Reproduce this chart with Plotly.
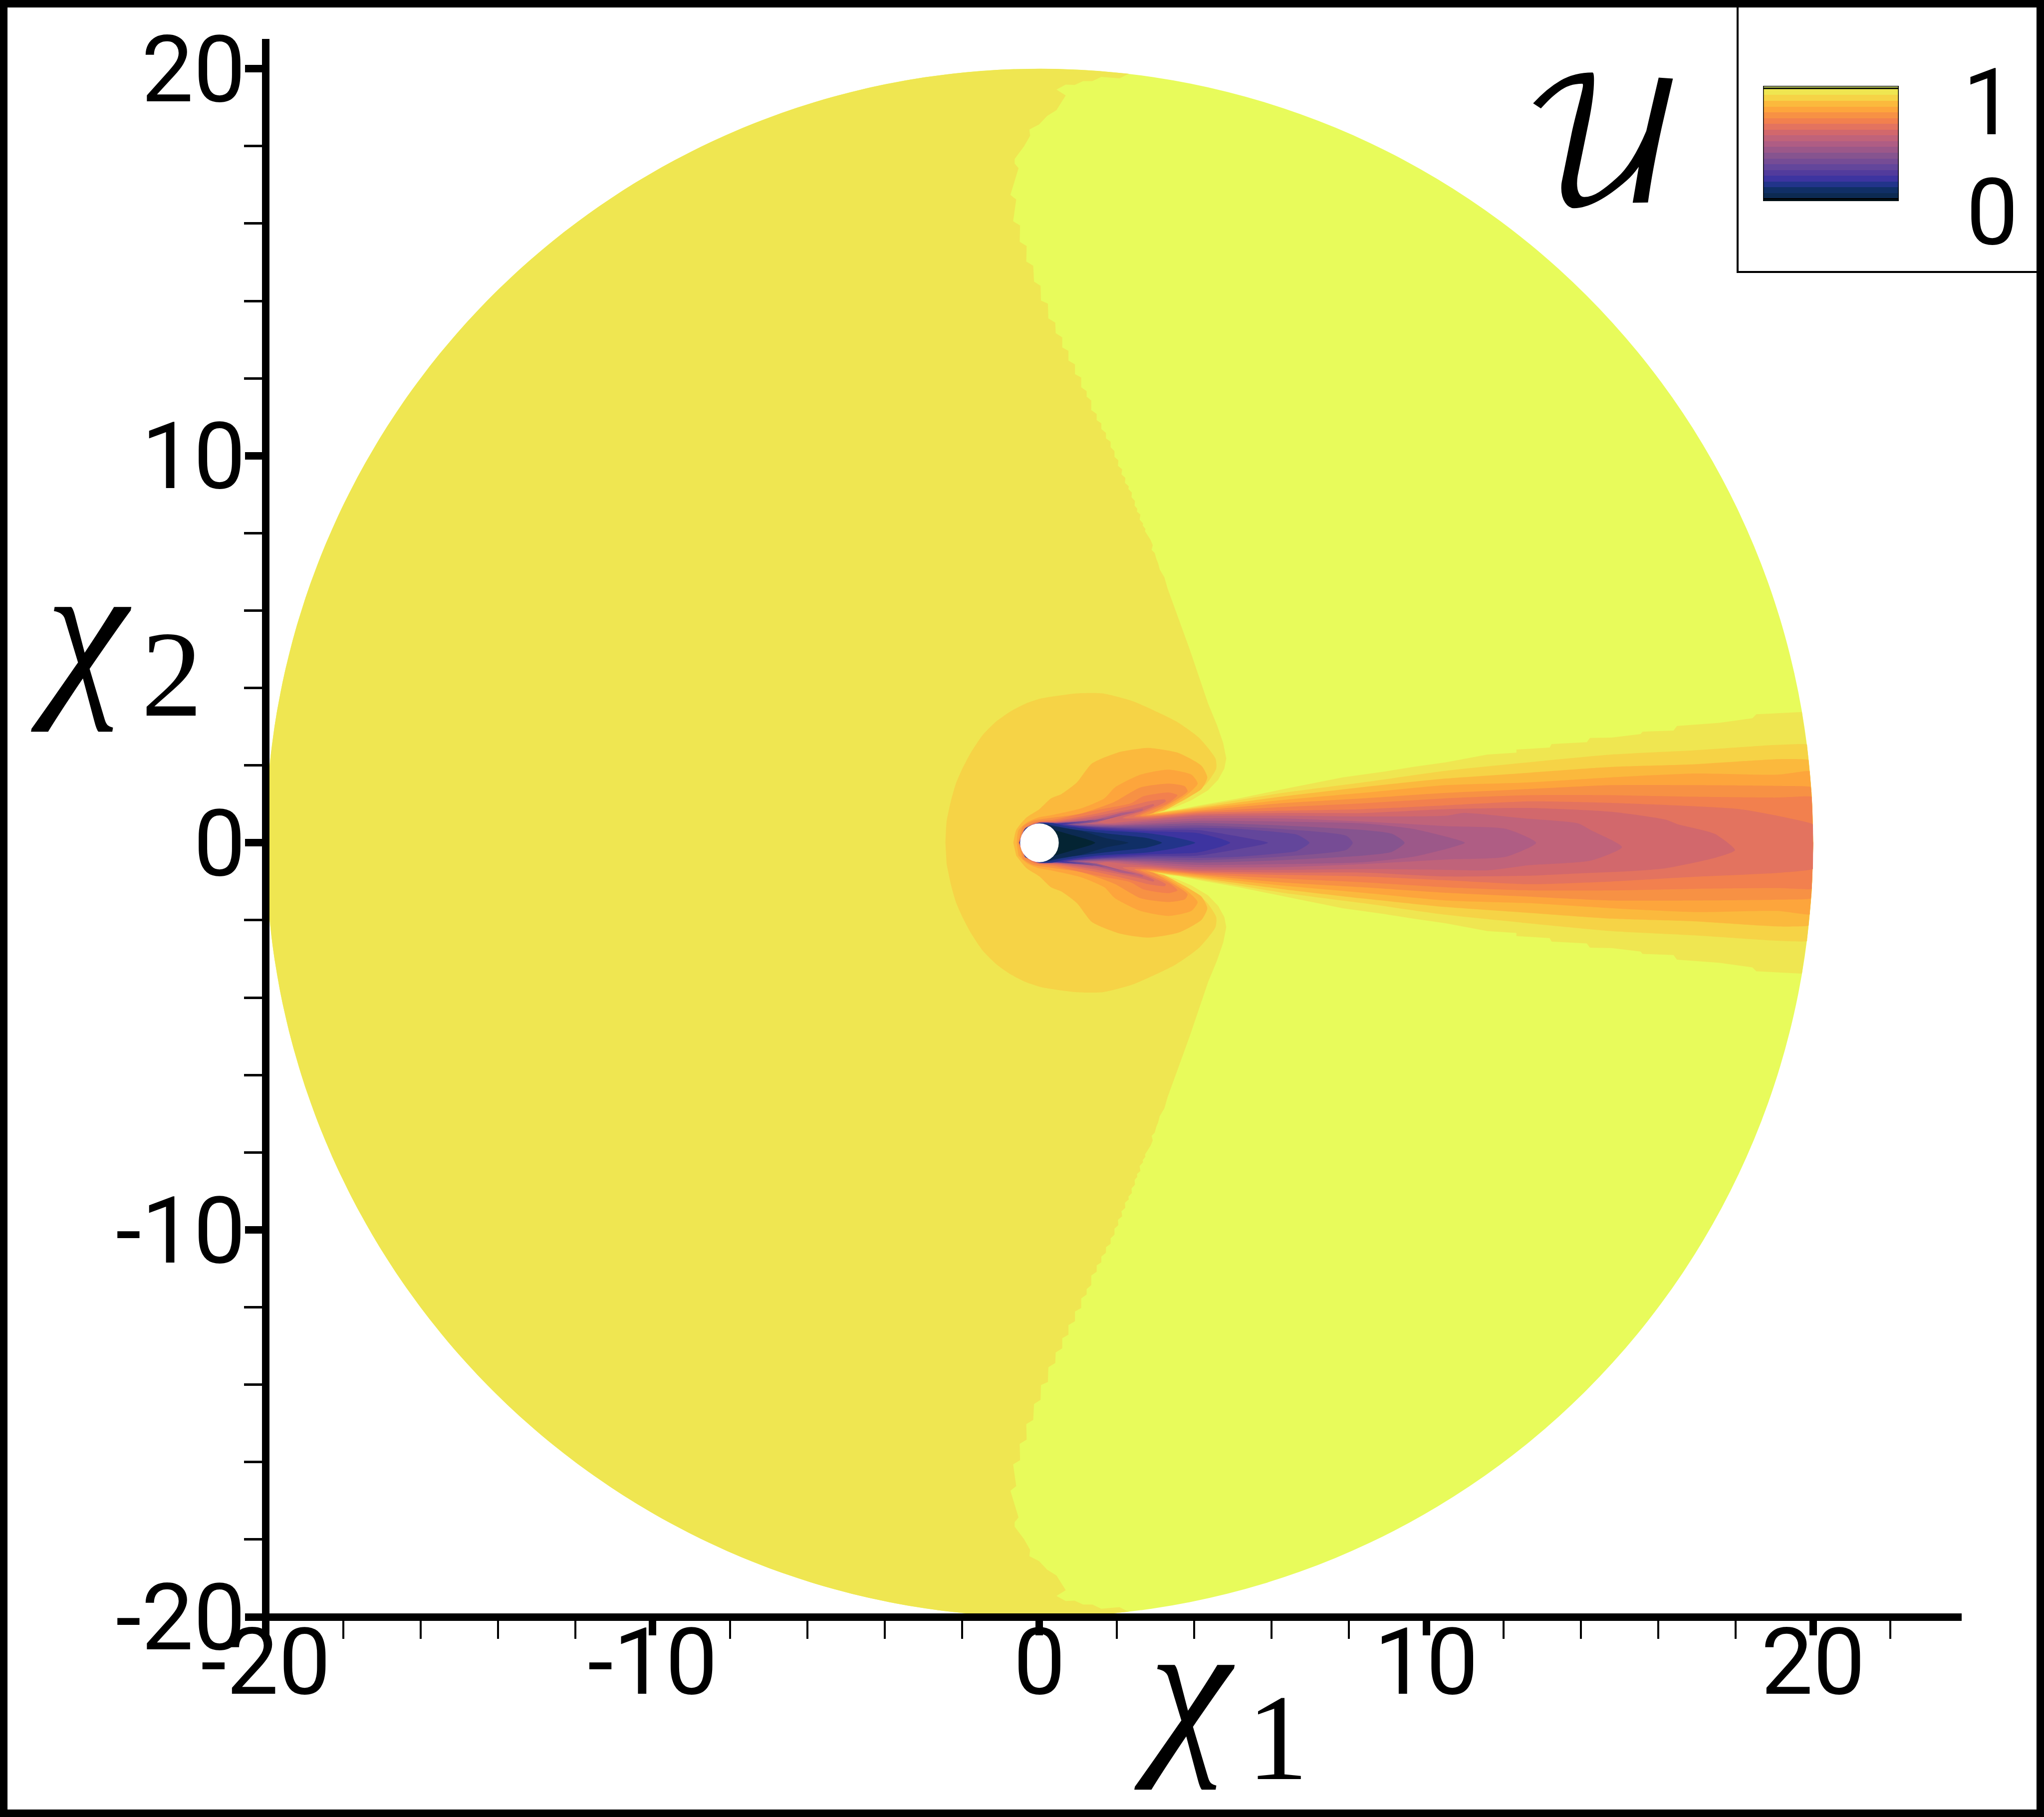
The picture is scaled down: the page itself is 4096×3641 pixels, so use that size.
import numpy as np
import plotly.graph_objects as go

W, H = 4096, 3641

# Colour of each contour band, from the value 1 end (top of the key) to the value 0 end
band_colors = ["#E8FB5B", "#EFE651", "#F6D346", "#FBB93D", "#FDA53C", "#F79144", "#F2804E",
               "#E3735F", "#D2686C", "#C0637A", "#AF5D84", "#9C5889", "#86548F", "#764C95",
               "#63469B", "#523B9C", "#3D34A0", "#22348A", "#102F66", "#0C2A52", "#042433"]
# Thickness of each band in the colour key
key_heights = [0.022] + [0.05] * 19 + [0.02]
key_lines = [0.02, 0.978]

x_major = [-20, -10, 0, 10, 20]
x_major_text = ["-20", "-10", "0", "10", "20"]
y_major = [-20, -10, 0, 10, 20]
y_major_text = ["-20", "-10", "0", "10", "20"]
x_minor = [-18, -16, -14, -12, -8, -6, -4, -2, 2, 4, 6, 8, 12, 14, 16, 18, 22]
y_minor = [-18, -16, -14, -12, -8, -6, -4, -2, 2, 4, 6, 8, 12, 14, 16, 18]

domain_radius = 20
cylinder_radius = 0.5

# Contour outlines: upper half, (x1, x2), from the axis upstream to the axis downstream.
band_01 = [(2.31, 19.87), (2.07, 19.75), (1.60, 19.79), (1.37, 19.68), (1.13, 19.68), (0.91, 19.58), (0.68, 19.59),
           (0.44, 19.46), (0.68, 19.31), (0.44, 18.93), (0.20, 18.78), (-0.01, 18.56), (-0.26, 18.43), (-0.24, 18.27),
           (-0.40, 17.99), (-0.64, 17.67), (-0.64, 17.55), (-0.54, 17.43), (-0.75, 16.74), (-0.60, 16.62), (-0.68, 16.06),
           (-0.50, 15.95), (-0.51, 15.53), (-0.33, 15.42), (-0.34, 15.02), (-0.16, 14.91), (-0.14, 14.50), (0.03, 14.39),
           (0.04, 14.01), (0.22, 13.93), (0.23, 13.55), (0.41, 13.44), (0.42, 13.17), (0.59, 13.06), (0.59, 12.80),
           (0.75, 12.71), (0.75, 12.46), (0.92, 12.36), (0.92, 12.11), (1.08, 12.02), (1.08, 11.77), (1.22, 11.67),
           (1.22, 11.53), (1.34, 11.43), (1.34, 11.18), (1.48, 11.08), (1.48, 10.92), (1.60, 10.84), (1.60, 10.69),
           (1.72, 10.59), (1.72, 10.45), (1.84, 10.36), (1.84, 10.22), (1.94, 10.12), (1.94, 9.97), (2.04, 9.88),
           (2.03, 9.74), (2.14, 9.65), (2.12, 9.52), (2.22, 9.43), (2.21, 9.30), (2.31, 9.21), (2.30, 9.14), (2.39, 9.05),
           (2.38, 8.93), (2.47, 8.83), (2.46, 8.71), (2.53, 8.63), (2.52, 8.56), (2.61, 8.48), (2.59, 8.35), (2.68, 8.25),
           (2.67, 8.20), (2.74, 8.11), (2.73, 8.05), (2.87, 7.83), (2.93, 7.69), (2.90, 7.57), (2.98, 7.49), (3.02, 7.34),
           (3.07, 7.22), (3.11, 7.06), (3.23, 6.86), (3.31, 6.58), (3.88, 5.01), (4.36, 3.60), (4.59, 3.04), (4.75, 2.58),
           (4.83, 2.18), (4.78, 1.92), (4.62, 1.63), (4.36, 1.36), (3.93, 1.10), (3.53, 0.93), (3.20, 0.82), (3.60, 0.86),
           (4.09, 0.96), (5.16, 1.15), (6.23, 1.37), (7.84, 1.69), (8.91, 1.84), (9.66, 1.96), (10.51, 2.08), (11.58, 2.28),
           (12.33, 2.33), (12.33, 2.41), (13.19, 2.46), (13.24, 2.55), (14.15, 2.60), (14.23, 2.71), (14.79, 2.72),
           (15.54, 2.81), (15.59, 2.87), (16.39, 2.90), (16.48, 3.02), (17.57, 3.10), (18.43, 3.22), (18.53, 3.32),
           (19.71, 3.38), (19.85, 2.40), (19.96, 1.30), (20.0, 0.0)]
band_02 = [(-2.43, 0), (-2.40, 0.54), (-2.29, 1.07), (-2.16, 1.53), (-1.99, 1.92), (-1.76, 2.35), (-1.47, 2.78), (-1.11, 3.14),
           (-0.74, 3.40), (-0.35, 3.60), (0.05, 3.73), (0.97, 3.86), (1.63, 3.86), (2.41, 3.66), (3.53, 3.14), (4.13, 2.71),
           (4.55, 2.18), (4.57, 1.92), (4.32, 1.53), (3.80, 1.13), (3.05, 0.78), (3.5, 0.84), (4.09, 0.93), (6.23, 1.28),
           (8.37, 1.56), (10.51, 1.86), (12.65, 2.08), (14.79, 2.28), (16.93, 2.39), (19.07, 2.53), (19.84, 2.54), (19.845, 2.50),
           (19.96, 1.30), (20.0, 0)]
band_03 = [(-0.675, 0), (-0.60, 0.33), (-0.34, 0.65), (0, 0.87), (0.30, 1.15), (0.57, 1.26), (0.97, 1.56), (1.36, 2.05),
           (2.09, 2.35), (2.81, 2.45), (3.60, 2.32), (4.19, 1.99), (4.34, 1.69), (4.19, 1.39), (3.75, 1.12), (3.24, 0.84),
           (2.95, 0.76), (3.3, 0.80), (4.09, 0.90), (6.23, 1.19), (8.37, 1.44), (10.51, 1.66), (12.65, 1.81), (14.79, 1.96),
           (16.93, 2.03), (19.07, 2.16), (19.88, 2.14), (19.885, 2.10), (19.97, 1.10), (20.0, 0)]
band_04 = [(-0.59, 0), (-0.54, 0.33), (-0.32, 0.53), (-0.04, 0.65), (0.34, 0.72), (1.08, 0.89), (1.68, 1.15), (1.95, 1.43),
           (2.61, 1.76), (3.34, 1.89), (3.93, 1.76), (4.09, 1.53), (3.80, 1.23), (3.27, 0.90), (2.85, 0.74), (3.3, 0.78),
           (4.09, 0.87), (6.23, 1.10), (8.37, 1.29), (10.51, 1.49), (12.65, 1.56), (14.79, 1.69), (16.93, 1.79), (19.07, 1.76),
           (19.91, 1.85), (19.915, 1.81), (19.98, 0.90), (20.0, 0)]
band_05 = [(-0.55, 0), (-0.43, 0.42), (-0.17, 0.57), (0.34, 0.65), (1.08, 0.76), (1.94, 1.06), (2.61, 1.43), (3.34, 1.53),
           (3.76, 1.46), (3.83, 1.33), (3.47, 1.07), (2.94, 0.77), (2.75, 0.72), (3.3, 0.75), (4.09, 0.83), (6.23, 1.02),
           (8.37, 1.15), (10.51, 1.29), (12.65, 1.39), (14.79, 1.49), (16.93, 1.49), (19.07, 1.47), (19.94, 1.44), (19.945, 1.40),
           (20.0, 0)]
band_06 = [(-0.535, 0), (-0.40, 0.36), (-0.13, 0.53), (0.39, 0.60), (1.50, 0.85), (2.36, 1.02), (2.68, 1.20), (3.34, 1.30),
           (3.57, 1.23), (3.34, 1.03), (2.81, 0.80), (2.6, 0.70), (3.0, 0.70), (4.09, 0.80), (6.23, 0.92), (8.37, 1.02),
           (10.51, 1.15), (12.65, 1.23), (14.79, 1.23), (16.93, 1.19), (19.07, 1.17), (19.96, 1.19), (19.965, 1.15), (20.0, 0)]
band_07 = [(-0.53, 0), (-0.38, 0.36), (-0.09, 0.52), (0.43, 0.57), (1.50, 0.76), (2.54, 1.00), (2.81, 1.07), (3.24, 1.12),
           (3.27, 1.07), (2.94, 0.90), (2.48, 0.70), (2.45, 0.68), (2.8, 0.67), (4.09, 0.77), (6.23, 0.83), (8.37, 0.87),
           (10.51, 0.97), (12.65, 1.07), (15.1, 1.02), (18.1, 0.87), (19.07, 0.70), (19.99, 0.48), (19.995, 0.44), (20.0, 0)]
band_07_lower = [(19.995, -0.64), (19.99, -0.68), (19.07, -0.78), (16.93, -0.88), (14.79, -1.00), (12.65, -1.07), (10.51, -0.97),
                 (8.37, -0.87), (6.23, -0.83), (4.09, -0.77), (2.8, -0.67)]
band_08 = [(-0.528, 0), (-0.37, 0.36), (-0.04, 0.52), (0.43, 0.54), (1.50, 0.70), (2.67, 0.93), (2.94, 1.00), (2.97, 0.97),
           (2.61, 0.80), (2.15, 0.64), (2.8, 0.63), (4.09, 0.73), (6.23, 0.77), (8.37, 0.77), (10.51, 0.87), (12.65, 0.90),
           (14.79, 0.80), (16.18, 0.60), (16.5, 0.48), (17.46, 0.23), (17.98, -0.19)]
band_08_lower = [(17.46, -0.39), (16.18, -0.66), (15.32, -0.73), (13.72, -0.80), (12.65, -0.85), (10.51, -0.87), (8.37, -0.77),
                 (6.23, -0.77), (4.09, -0.73), (2.8, -0.63)]
band_09 = [(-0.526, 0), (-0.37, 0.37), (0, 0.525), (0.43, 0.53), (1.50, 0.65), (2.50, 0.85), (2.67, 0.88), (2.67, 0.84),
           (2.17, 0.72), (1.46, 0.55), (1.72, 0.50), (2.36, 0.56), (2.8, 0.59), (4.09, 0.69), (6.23, 0.70), (8.37, 0.68),
           (10.51, 0.70), (10.94, 0.77), (12.54, 0.63), (13.93, 0.50), (14.25, 0.33), (15.06, -0.11)]
band_09_lower = [(14.25, -0.46), (12.65, -0.58), (11.58, -0.71), (10.51, -0.70), (8.37, -0.68), (6.23, -0.70), (4.09, -0.69), (2.8, -0.59)]
band_10 = [(-0.524, 0), (-0.37, 0.37), (0, 0.523), (0.43, 0.525), (1.50, 0.61), (2.15, 0.78), (2.49, 0.80), (2.19, 0.72),
           (1.59, 0.57), (1.16, 0.50), (1.93, 0.48), (2.8, 0.55), (4.09, 0.63), (6.23, 0.63), (8.37, 0.55), (10.51, 0.43),
           (12.06, 0.36), (12.84, 0)]
band_11 = [(-0.522, 0), (-0.37, 0.37), (0, 0.521), (0.43, 0.52), (1.50, 0.59), (2.11, 0.72), (1.50, 0.54), (0.99, 0.49),
           (1.93, 0.46), (2.8, 0.50), (4.09, 0.57), (6.23, 0.55), (8.37, 0.50), (9.66, 0.36), (10.62, 0.13), (11.0, 0)]
band_12 = [(-0.52, 0), (-0.37, 0.37), (0, 0.519), (0.43, 0.515), (1.33, 0.57), (1.68, 0.63), (1.33, 0.52), (0.86, 0.48),
           (1.72, 0.44), (2.8, 0.46), (4.09, 0.51), (6.23, 0.45), (8.37, 0.33), (9.12, 0.23), (9.44, 0)]
band_13 = [(-0.518, 0), (-0.37, 0.365), (0, 0.517), (0.43, 0.51), (1.07, 0.55), (1.42, 0.59), (1.07, 0.50), (0.77, 0.47),
           (1.72, 0.42), (2.8, 0.42), (4.09, 0.45), (6.23, 0.36), (7.94, 0.18), (8.1, 0)]
band_14 = [(-0.516, 0), (-0.365, 0.365), (0, 0.515), (0.43, 0.505), (1.16, 0.55), (0.73, 0.47), (1.72, 0.40), (2.8, 0.38),
           (4.09, 0.39), (5.16, 0.36), (6.23, 0.27), (6.66, 0.21), (6.98, 0)]
band_15 = [(-0.514, 0), (-0.365, 0.365), (0, 0.513), (0.43, 0.50), (0.95, 0.52), (0.69, 0.48), (1.50, 0.40), (2.8, 0.34),
           (4.09, 0.33), (5.16, 0.16), (5.91, 0)]
band_16 = [(-0.512, 0), (-0.36, 0.36), (0, 0.511), (0.43, 0.495), (0.77, 0.51), (0.60, 0.48), (1.50, 0.37), (2.79, 0.30),
           (4.09, 0.25), (4.7, 0.10), (4.93, 0)]
band_17 = [(-0.51, 0), (-0.36, 0.36), (0, 0.509), (0.34, 0.51), (0.64, 0.44), (1.50, 0.33), (2.79, 0.25), (3.5, 0.14), (4.03, 0)]
band_18 = [(-0.508, 0), (-0.36, 0.36), (0, 0.507), (0.39, 0.44), (0.86, 0.35), (1.93, 0.22), (2.79, 0.12), (3.17, 0)]
band_19 = [(-0.505, 0), (-0.357, 0.357), (0, 0.504), (0.37, 0.42), (0.64, 0.38), (1.07, 0.31), (1.72, 0.12), (2.30, 0)]
band_20 = [(0, 0), (0, 0.4), (0.38, 0.33), (0.77, 0.22), (1.44, 0)]

x_label_symbol = "<i>χ</i>"
x_label_index = "1"
y_label_symbol = "<i>χ</i>"
y_label_index = "2"
field_label = "𝒰"
key_tick_top = "1"
key_tick_bottom = "0"


def far_arc(end):
    """Left part of the domain circle, up to the point where a contour meets it."""
    start = np.pi
    stop = np.arctan2(end[1], end[0])
    t = np.linspace(start, stop, 90)
    return list(zip(domain_radius * np.cos(t), domain_radius * np.sin(t)))


def outline(upper, lower=None):
    back = list(reversed(upper))
    if lower is None:
        mirror = [(x, -y) for x, y in back if y != 0]
    else:
        # the written lower edge joins the mirrored upper edge at its last point
        idx = next(i for i, p in enumerate(back) if p[0] <= lower[-1][0] and abs(p[1] + lower[-1][1]) < 0.001)
        mirror = lower + [(x, -y) for x, y in back[idx + 1:] if y != 0]
    pts = upper + mirror
    return [p[0] for p in pts], [p[1] for p in pts]


fig = go.Figure()

bands = [(far_arc(band_01[0]) + band_01, None), (band_02, None), (band_03, None), (band_04, None), (band_05, None), (band_06, None),
         (band_07, band_07_lower), (band_08, band_08_lower), (band_09, band_09_lower), (band_10, None), (band_11, None),
         (band_12, None), (band_13, None), (band_14, None), (band_15, None), (band_16, None), (band_17, None),
         (band_18, None), (band_19, None), (band_20, None)]
for i, ((upper, lower), color) in enumerate(zip(bands, band_colors[1:])):
    xs, ys = outline(upper, lower)
    line = dict(width=0) if i == 0 else dict(width=0, shape="spline", smoothing=0.6)
    fig.add_trace(go.Scatter(x=xs, y=ys, mode="lines", line=line, fill="toself", fillcolor=color,
                             hoverinfo="skip", showlegend=False))

# Colour key, bottom to top
for h, color in zip(reversed(key_heights), reversed(band_colors)):
    fig.add_trace(go.Bar(x=[0], y=[h], width=1, marker=dict(color=color, line=dict(width=0)), xaxis="x2", yaxis="y2",
                         hoverinfo="skip", showlegend=False))


def px(v):
    return v / W


def py(v):
    return 1 - v / H


shapes = [
    dict(type="circle", xref="x", yref="y", x0=-domain_radius, x1=domain_radius, y0=-domain_radius, y1=domain_radius,
         fillcolor=band_colors[0], line=dict(width=0), layer="below"),
    dict(type="circle", xref="x", yref="y", x0=-cylinder_radius, x1=cylinder_radius, y0=-cylinder_radius, y1=cylinder_radius,
         fillcolor="white", line=dict(width=0)),
    # main axis lines
    dict(type="line", xref="paper", yref="paper", x0=px(532.5), x1=px(532.5), y0=py(3240), y1=py(78), line=dict(color="black", width=15)),
    dict(type="line", xref="paper", yref="paper", x0=px(493), x1=px(3931), y0=py(3240.5), y1=py(3240.5), line=dict(color="black", width=15)),
    # outer frame
    dict(type="rect", xref="paper", yref="paper", x0=px(7.5), x1=px(4088.5), y0=py(7.5), y1=py(3633.5), line=dict(color="black", width=15)),
    # key box
    dict(type="line", xref="paper", yref="paper", x0=px(3482), x1=px(3482), y0=py(15), y1=py(545), line=dict(color="black", width=4)),
    dict(type="line", xref="paper", yref="paper", x0=px(3480), x1=px(4082), y0=py(545), y1=py(545), line=dict(color="black", width=4)),
    # key outline
    dict(type="rect", xref="x2", yref="y2", x0=-0.5, x1=0.5, y0=0, y1=1, line=dict(color="black", width=3)),
]
for v in key_lines:
    shapes.append(dict(type="line", xref="x2", yref="y2", x0=-0.5, x1=0.5, y0=v, y1=v, line=dict(color="black", width=3)))

label_font = dict(family="Roboto", size=186, color="black")
serif = "Liberation Serif"
annotations = [
    dict(text=x_label_symbol, x=px(2372), y=py(3382), font=dict(family=serif, size=372, color="black")),
    dict(text=x_label_index, x=px(2560), y=py(3482), font=dict(family=serif, size=245, color="black")),
    dict(text=y_label_symbol, x=px(161), y=py(1262), font=dict(family=serif, size=372, color="black")),
    dict(text=y_label_index, x=px(344), y=py(1351), font=dict(family=serif, size=245, color="black")),
    dict(text=field_label, x=px(3212), y=py(307), font=dict(family="DejaVu Math TeX Gyre, Liberation Serif", size=340, color="black")),
    dict(text=key_tick_top, x=px(3985), y=py(205), font=label_font),
    dict(text=key_tick_bottom, x=px(3992), y=py(425), font=label_font),
]
for a in annotations:
    a.update(xref="paper", yref="paper", showarrow=False, xanchor="center", yanchor="middle")

fig.update_layout(
    template="none",
    width=W, height=H, margin=dict(l=0, r=0, t=0, b=0, pad=0), autosize=False,
    paper_bgcolor="white", plot_bgcolor="white", barmode="stack", bargap=0,
    showlegend=False, shapes=shapes, annotations=annotations,
    xaxis=dict(domain=[px(532.5), px(3931)], range=[-20, 23.84], showgrid=False, zeroline=False, showline=False, automargin=False,
               tickmode="array", tickvals=x_major, ticktext=x_major_text, ticks="outside", ticklen=36, tickwidth=15,
               tickcolor="black", tickfont=label_font, ticklabelstandoff=-106,
               minor=dict(tickmode="array", tickvals=x_minor, ticks="outside", ticklen=43, tickwidth=4, tickcolor="black", showgrid=False)),
    yaxis=dict(domain=[py(3240), py(78)], range=[-20, 20.77], showgrid=False, zeroline=False, showline=False, automargin=False,
               tickmode="array", tickvals=y_major, ticktext=y_major_text, ticks="outside", ticklen=41, tickwidth=15,
               tickcolor="black", tickfont=label_font, ticklabelstandoff=-39,
               minor=dict(tickmode="array", tickvals=y_minor, ticks="outside", ticklen=43, tickwidth=5, tickcolor="black", showgrid=False)),
    xaxis2=dict(domain=[px(3533), px(3805)], range=[-0.5, 0.5], visible=False, anchor="y2", fixedrange=True, automargin=False),
    yaxis2=dict(domain=[py(403), py(172)], range=[0, 1.0], visible=False, anchor="x2", fixedrange=True, automargin=False),
)

fig.write_html("out.html", config={"displayModeBar": False}, post_script="document.body.style.margin='0';")
